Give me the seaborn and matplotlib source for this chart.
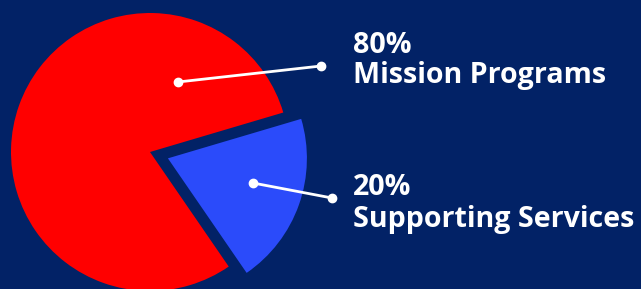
import matplotlib
matplotlib.use("Agg")
import matplotlib.pyplot as plt
import seaborn as sns

# data
labels = ["Mission Programs", "Supporting Services"]
shares = [80, 20]
pct_labels = ["80%", "20%"]

colors = ["#FF0000", "#2B4BFA"]
bg = "#022266"

sns.set_theme(style="white", rc={"axes.facecolor": bg, "figure.facecolor": bg})
plt.rcParams["font.family"] = ["Open Sans", "DejaVu Sans"]

fig = plt.figure(figsize=(6.41, 2.89), dpi=100)
ax = fig.add_axes([0, 0, 1, 1])

# pie in pixel-like data units
center = (150, 137)
radius = 139
wedges, _ = ax.pie(shares, colors=colors, startangle=16.5, counterclock=True,
                   center=center, radius=radius, explode=[0, 19],
                   wedgeprops={"linewidth": 0})

ax.set_xlim(0, 641)
ax.set_ylim(0, 289)
ax.set_aspect("equal")
ax.axis("off")

# leader lines (inner point, outer point) and text baselines
leaders = [((178, 207), (321, 223)), ((253, 106), (332, 91))]
text_y = [(236, 206), (94, 62)]

for (p0, p1), (y_pct, y_lab), pct, lab in zip(leaders, text_y, pct_labels, labels):
    ax.plot([p0[0], p1[0]], [p0[1], p1[1]], color="white", lw=2,
            marker="o", markersize=6, solid_capstyle="round")
    ax.text(353, y_pct, pct, color="white", fontsize=20.6, fontweight="bold",
            va="baseline", ha="left")
    ax.text(353, y_lab, lab, color="white", fontsize=20.6, fontweight="bold",
            va="baseline", ha="left")

fig.savefig("out.png", dpi=100, facecolor=bg)
